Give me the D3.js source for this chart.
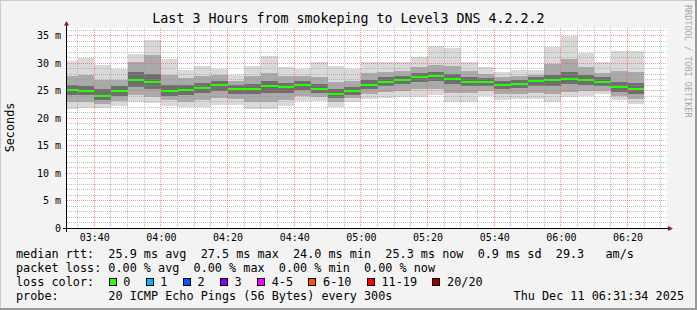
<!DOCTYPE html>
<html>
<head>
<meta charset="utf-8">
<script src="https://cdn.jsdelivr.net/npm/d3@7"></script>
<style>
  html, body { margin: 0; padding: 0; background: #f3f3f3; }
  svg { display: block; font-family: "DejaVu Sans Mono", monospace; }
  text { white-space: pre; }
</style>
</head>
<body>
<svg id="chart" width="697" height="310"></svg>
<script>
const DAY = "2025-12-11";
const RANGE_START = "03:31:50";
const RANGE_END = "06:31:50";

// end time of each 5 minute bin
const BIN_ENDS = [
    "03:35", "03:40", "03:45", "03:50", "03:55", "04:00", "04:05", "04:10", "04:15",
    "04:20", "04:25", "04:30", "04:35", "04:40", "04:45", "04:50", "04:55", "05:00",
    "05:05", "05:10", "05:15", "05:20", "05:25", "05:30", "05:35", "05:40", "05:45",
    "05:50", "05:55", "06:00", "06:05", "06:10", "06:15", "06:20", "06:25"
];

// median rtt (ms)
const MEDIAN = [
    25.1, 24.85, 23.95, 24.85, 27.0, 26.55, 24.85, 25.1, 25.45,
    25.95, 25.3, 25.3, 25.8, 25.6, 25.95, 25.3, 24.37, 24.85,
    25.95, 26.6, 26.9, 27.4, 27.58, 27.1, 26.6, 26.6, 25.95,
    26.2, 26.7, 26.9, 27.1, 26.9, 26.6, 25.6, 25.3
];

// smoke: lowest / highest ping
const SMOKE_MIN = [
    21.6, 21.8, 21.8, 22.1, 23.0, 22.8, 22.1, 22.0, 22.0,
    22.3, 22.4, 21.6, 21.7, 22.1, 23.1, 23.1, 22.0, 22.9,
    23.4, 23.7, 23.9, 23.9, 24.1, 23.0, 23.0, 24.0, 23.3,
    23.4, 23.4, 23.0, 23.8, 24.0, 24.3, 23.2, 22.5
];
const SMOKE_MAX = [
    30.4, 31.0, 29.6, 29.0, 31.6, 34.1, 30.7, 28.7, 29.4,
    29.0, 27.8, 29.4, 31.3, 29.2, 28.9, 30.1, 29.5, 28.9,
    30.1, 30.2, 30.2, 31.1, 33.1, 32.7, 30.1, 29.2, 28.4,
    28.7, 28.7, 32.9, 34.9, 31.8, 30.1, 32.1, 32.1
];

// smoke: middle pings
const MID_LO = [
    23.0, 23.0, 22.6, 23.1, 24.2, 23.9, 23.2, 23.0, 23.2,
    23.6, 23.4, 22.9, 23.0, 23.3, 24.0, 23.9, 23.0, 23.6,
    24.3, 24.8, 25.0, 25.2, 25.3, 24.6, 24.5, 25.0, 24.3,
    24.4, 24.6, 24.4, 24.8, 24.9, 25.0, 24.0, 23.4
];
const MID_HI = [
    27.6, 27.8, 27.0, 27.0, 30.2, 31.5, 27.9, 27.2, 27.6,
    27.8, 26.8, 27.6, 28.2, 27.6, 27.6, 27.5, 26.6, 26.8,
    28.2, 28.4, 28.6, 29.2, 29.6, 29.4, 28.6, 28.0, 27.4,
    27.6, 27.9, 29.8, 30.8, 29.2, 28.2, 28.6, 28.4
];

// smoke: core pings around the median
const INNER_LO = [
    24.2, 24.1, 23.2, 24.0, 25.6, 25.2, 24.0, 24.2, 24.6,
    25.0, 24.4, 24.3, 24.6, 24.6, 25.1, 24.5, 23.6, 24.1,
    25.2, 25.8, 26.1, 26.5, 26.7, 26.2, 25.8, 25.9, 25.2,
    25.5, 25.9, 25.9, 26.1, 26.0, 25.8, 24.8, 24.3
];
const INNER_HI = [
    26.0, 25.9, 25.2, 25.8, 28.3, 28.0, 26.0, 26.0, 26.4,
    26.8, 26.0, 26.2, 26.8, 26.4, 26.7, 26.1, 25.3, 25.6,
    26.9, 27.4, 27.6, 28.2, 28.4, 28.0, 27.4, 27.3, 26.7,
    26.9, 27.4, 27.9, 28.3, 27.8, 27.4, 26.6, 26.3
];

const Y_TICKS = [0, 5, 10, 15, 20, 25, 30, 35];
const X_TICKS = ["03:40", "04:00", "04:20", "04:40", "05:00", "05:20", "05:40", "06:00", "06:20"];

const TITLE = "Last 3 Hours from smokeping to Level3 DNS 4.2.2.2";
const Y_TITLE = "Seconds";
const MEDIAN_LINE = "median rtt:  25.9 ms avg  27.5 ms max  24.0 ms min  25.3 ms now  0.9 ms sd  29.3   am/s";
const LOSS_LINE = "packet loss: 0.00 % avg  0.00 % max  0.00 % min  0.00 % now";
const PROBE_LINE = "probe:       20 ICMP Echo Pings (56 Bytes) every 300s";
const DATE_TEXT = "Thu Dec 11 06:31:34 2025";
const WATERMARK = "RRDTOOL / TOBI OETIKER";

const LOSS_LABELS = ["0", "1", "2", "3", "4-5", "6-10", "11-19", "20/20"];
const LOSS_COLORS = ["#26ff00", "#00b8ff", "#0059ff", "#7e00ff", "#ff00ff", "#ff5500", "#ff0000", "#a10000"];

const parseTime = d3.utcParse("%Y-%m-%d %H:%M:%S");
const toTime = (s) => parseTime(`${DAY} ${s.length === 5 ? s + ":00" : s}`);

const svg = d3.select("#chart");
const W = 697, H = 310;
const LEFT = 67, RIGHT = 667, TOP = 28, BOTTOM = 228;
const CW = 7.117; // legend char width

const start = toTime(RANGE_START);
const end = toTime(RANGE_END);
const x = d3.scaleUtc().domain([start, end]).range([LEFT, RIGHT]);
const y = d3.scaleLinear().domain([0, (BOTTOM - TOP) / 5.5]).range([BOTTOM, TOP]);

// canvas + 3d border
svg.append("rect").attr("width", W).attr("height", H).attr("fill", "#f3f3f3");
svg.append("path").attr("d", `M0,${H} V0 H${W}`).attr("fill", "none").attr("stroke", "#cbcbcb").attr("stroke-width", 2);
svg.append("path").attr("d", `M0,${H - 1} H${W - 1} V0`).attr("fill", "none").attr("stroke", "#999").attr("stroke-width", 2);

svg.append("rect")
    .attr("x", LEFT).attr("y", TOP)
    .attr("width", RIGHT - LEFT).attr("height", BOTTOM - TOP)
    .attr("fill", "#fff");

// smoke
const bins = BIN_ENDS.map((t, i) => {
    const e = toTime(t);
    const s = d3.utcMinute.offset(e, -5);
    return {
        x0: Math.max(x(s), LEFT),
        x1: x(e),
        med: MEDIAN[i],
        bands: [
            [SMOKE_MIN[i], SMOKE_MAX[i], "#d9d9d9"],
            [MID_LO[i], MID_HI[i], "#aaaaaa"],
            [INNER_LO[i], INNER_HI[i], "#6e6e6e"]
        ]
    };
});

const smoke = svg.append("g").attr("shape-rendering", "crispEdges");
bins.forEach((b) => {
    smoke.selectAll(null)
        .data(b.bands)
        .enter()
        .append("rect")
        .attr("x", b.x0)
        .attr("width", b.x1 - b.x0)
        .attr("y", (d) => y(d[1]))
        .attr("height", (d) => y(d[0]) - y(d[1]))
        .attr("fill", (d) => d[2]);
});

// grid on top of smoke
const px = (v) => Math.floor(v) + 0.5;
const MINOR = "rgba(150,150,150,0.6)";
const MAJOR = "rgba(255,80,80,0.65)";
const majorX = X_TICKS.map(toTime);
const minorX = d3.utcMinute.range(start, end)
    .filter((t) => t.getUTCMinutes() % 5 === 0)
    .filter((t) => !X_TICKS.includes(d3.utcFormat("%H:%M")(t)));
const minorY = d3.range(1, 37).filter((v) => !Y_TICKS.includes(v));
const majorY = Y_TICKS.filter((v) => v > 0);

const hLines = (data, color) => svg.append("g")
    .selectAll("line")
    .data(data)
    .enter()
    .append("line")
    .attr("x1", LEFT).attr("x2", RIGHT)
    .attr("y1", (d) => px(y(d))).attr("y2", (d) => px(y(d)))
    .attr("stroke", color)
    .attr("stroke-dasharray", "1,1");
const vLines = (data, color) => svg.append("g")
    .selectAll("line")
    .data(data)
    .enter()
    .append("line")
    .attr("x1", (d) => px(x(d))).attr("x2", (d) => px(x(d)))
    .attr("y1", TOP).attr("y2", BOTTOM)
    .attr("stroke", color)
    .attr("stroke-dasharray", "1,1");

hLines(minorY, MINOR);
vLines(minorX, MINOR);
hLines(majorY, MAJOR);
vLines(majorX, MAJOR);

// median
svg.append("g").attr("shape-rendering", "crispEdges")
    .selectAll("rect")
    .data(bins)
    .enter()
    .append("rect")
    .attr("x", (d) => d.x0)
    .attr("width", (d) => d.x1 - d.x0)
    .attr("y", (d) => Math.round(y(d.med)) - 1)
    .attr("height", 2)
    .attr("fill", LOSS_COLORS[0]);

// axes
const yAxis = d3.axisLeft(y)
    .tickValues(Y_TICKS)
    .tickSize(0)
    .tickPadding(6)
    .tickFormat((d) => d === 0 ? "0" : `${d} m`);
const gy = svg.append("g").attr("transform", `translate(${LEFT},0)`).call(yAxis);
gy.select(".domain").remove();
gy.attr("font-family", null).attr("font-size", 10);
gy.selectAll("text").attr("fill", "#000");

const xAxis = d3.axisBottom(x)
    .tickValues(majorX)
    .tickSize(0)
    .tickPadding(6)
    .tickFormat(d3.utcFormat("%H:%M"));
const gx = svg.append("g").attr("transform", `translate(0,${BOTTOM})`).call(xAxis);
gx.select(".domain").remove();
gx.attr("font-family", null).attr("font-size", 10);
gx.selectAll("text").attr("fill", "#000");

svg.append("line").attr("x1", 63).attr("x2", 669).attr("y1", BOTTOM + 0.5).attr("y2", BOTTOM + 0.5).attr("stroke", "#000");
svg.append("line").attr("x1", LEFT - 0.5).attr("x2", LEFT - 0.5).attr("y1", 232).attr("y2", 24).attr("stroke", "#000");
svg.append("path").attr("d", `M668,${BOTTOM - 2} L673,${BOTTOM + 0.5} L668,${BOTTOM + 3} Z`).attr("fill", "#8b1a1a");
svg.append("path").attr("d", `M${LEFT - 3},25.5 L${LEFT - 0.5},21 L${LEFT + 2},25.5 Z`).attr("fill", "#8b1a1a");

// titles
svg.append("text")
    .attr("x", W / 2).attr("y", 22.5)
    .attr("text-anchor", "middle")
    .attr("font-size", 13.3)
    .text(TITLE);
svg.append("text")
    .attr("transform", "translate(14,127.5) rotate(-90)")
    .attr("text-anchor", "middle")
    .attr("font-size", 11.8)
    .text(Y_TITLE);
svg.append("text")
    .attr("transform", "translate(685,5) rotate(90)")
    .attr("font-size", 8.5)
    .attr("fill", "#a8a8a8")
    .text(WATERMARK);

// legend
const legend = svg.append("g").attr("font-size", 11.8).attr("xml:space", "preserve");
legend.append("text").attr("x", 16).attr("y", 258).text(MEDIAN_LINE);
legend.append("text").attr("x", 16).attr("y", 272).text(LOSS_LINE);
legend.append("text").attr("x", 16).attr("y", 286).text("loss color:");
legend.append("text").attr("x", 16).attr("y", 300).text(PROBE_LINE);
legend.append("text").attr("x", 684).attr("y", 300).attr("text-anchor", "end").text(DATE_TEXT);

let lx = 16 + 13 * CW;
LOSS_LABELS.forEach((label, i) => {
    legend.append("rect")
        .attr("x", Math.round(lx) + 0.5).attr("y", 278.5)
        .attr("width", 7).attr("height", 7)
        .attr("fill", LOSS_COLORS[i])
        .attr("stroke", "#000");
    legend.append("text").attr("x", lx + 14.7).attr("y", 286).text(label);
    lx += 30 + label.length * CW;
});
</script>
</body>
</html>
